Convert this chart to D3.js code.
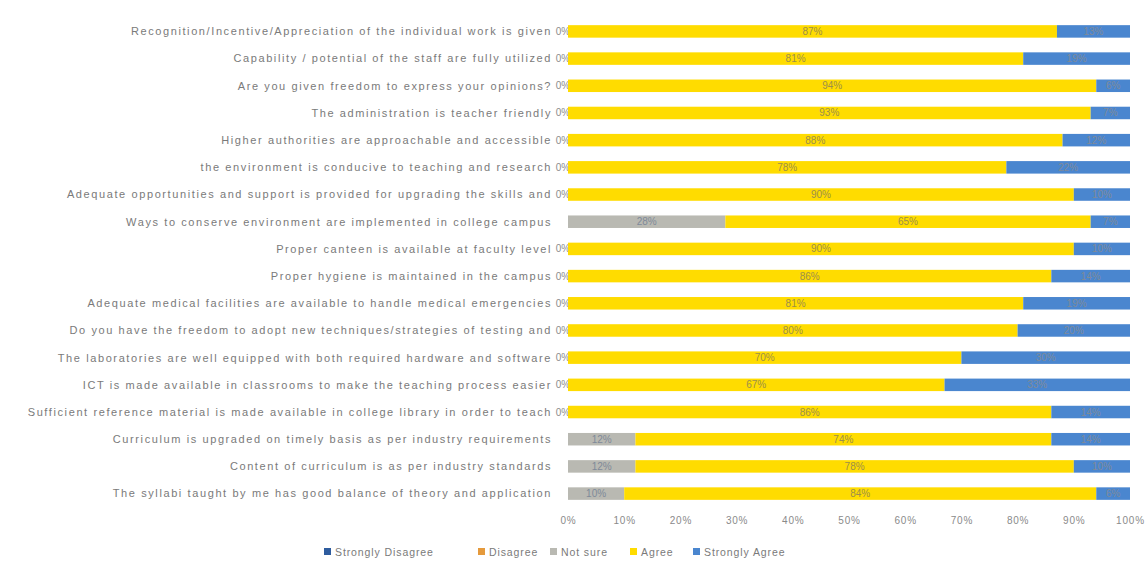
<!DOCTYPE html>
<html>
<head>
<meta charset="utf-8">
<script src="https://cdn.jsdelivr.net/npm/d3@7"></script>
<style>
  html, body { margin: 0; padding: 0; background: #fff; }
  svg { display: block; font-family: "Liberation Sans", Arial, sans-serif; }
</style>
</head>
<body>
<div id="chart"></div>
<script>
// survey statements, top to bottom
const categories = [
  "Recognition/Incentive/Appreciation of the individual work is given",
  "Capability / potential of the staff are fully utilized",
  "Are you given freedom to express your opinions?",
  "The administration is teacher friendly",
  "Higher authorities are approachable and accessible",
  "the environment is conducive to teaching and research",
  "Adequate opportunities and support is provided for upgrading the skills and",
  "Ways to conserve environment are implemented in college campus",
  "Proper canteen is available at faculty level",
  "Proper hygiene is maintained in the campus",
  "Adequate medical facilities are available to handle medical emergencies",
  "Do you have the freedom to adopt new techniques/strategies of testing and",
  "The laboratories are well equipped with both required hardware and software",
  "ICT is made available in classrooms to make the teaching process easier",
  "Sufficient reference material is made available in college library in order to teach",
  "Curriculum is upgraded on timely basis as per industry requirements",
  "Content of curriculum is as per industry standards",
  "The syllabi taught by me has good balance of theory and application"
];

const seriesNames = ["Strongly Disagree", "Disagree", "Not sure", "Agree", "Strongly Agree"];
const seriesColors = ["#2e5c9e", "#e59a3c", "#b9b9b2", "#ffdc00", "#4a86cf"];

const stronglyDisagree = [0, 0, 0, 0, 0, 0, 0, 0, 0, 0, 0, 0, 0, 0, 0, 0, 0, 0];
const disagree         = [0, 0, 0, 0, 0, 0, 0, 0, 0, 0, 0, 0, 0, 0, 0, 0, 0, 0];
const notSure          = [0, 0, 0, 0, 0, 0, 0, 28, 0, 0, 0, 0, 0, 0, 0, 12, 12, 10];
const agree            = [87, 81, 94, 93, 88, 78, 90, 65, 90, 86, 81, 80, 70, 67, 86, 74, 78, 84];
const stronglyAgree    = [13, 19, 6, 7, 12, 22, 10, 7, 10, 14, 19, 20, 30, 33, 14, 14, 10, 6];

const xTicks = [0, 10, 20, 30, 40, 50, 60, 70, 80, 90, 100];

const width = 1147, height = 566;
const x0 = 568, x1 = 1130;

const rows = categories.map((c, i) => ({
  cat: c,
  vals: [stronglyDisagree[i], disagree[i], notSure[i], agree[i], stronglyAgree[i]]
}));

const svg = d3.select("#chart").append("svg")
  .attr("width", width)
  .attr("height", height);

const x = d3.scaleLinear().domain([0, 100]).range([x0, x1]);
const y = d3.scaleBand().domain(categories).range([17, 508]).paddingInner(0.54).paddingOuter(0.3);

// stacked segments
const segs = [];
rows.forEach(r => {
  let acc = 0;
  r.vals.forEach((v, k) => {
    segs.push({ cat: r.cat, k: k, start: acc, v: v });
    acc += v;
  });
});

// zero labels sit partly under the bars (Excel draws them at the bar start)
svg.append("g").selectAll("text")
  .data(rows.filter(r => r.vals[2] === 0))
  .join("text")
  .attr("x", x(0) - 5)
  .attr("y", d => y(d.cat) + y.bandwidth() / 2)
  .attr("dy", "0.35em")
  .attr("text-anchor", "middle")
  .attr("font-size", 10)
  .attr("fill", "#8c8c8c")
  .text("0%");

svg.append("g").selectAll("rect")
  .data(segs.filter(s => s.v > 0))
  .join("rect")
  .attr("x", d => x(d.start))
  .attr("y", d => y(d.cat))
  .attr("width", d => x(d.start + d.v) - x(d.start))
  .attr("height", y.bandwidth())
  .attr("fill", d => seriesColors[d.k]);

svg.append("g").selectAll("text")
  .data(segs.filter(s => s.v > 0))
  .join("text")
  .attr("x", d => x(d.start + d.v / 2))
  .attr("y", d => y(d.cat) + y.bandwidth() / 2)
  .attr("dy", "0.35em")
  .attr("text-anchor", "middle")
  .attr("font-size", 10)
  .attr("fill", d => d.k === 3 ? "#9c8f4a" : "#7f8a99")
  .text(d => d.v + "%");

// category labels
svg.append("g").selectAll("text")
  .data(categories)
  .join("text")
  .attr("x", x0 - 16)
  .attr("y", d => y(d) + y.bandwidth() / 2)
  .attr("dy", "0.35em")
  .attr("text-anchor", "end")
  .attr("font-size", 11)
  .attr("letter-spacing", "1.6px")
  .attr("fill", "#7a7a7a")
  .text(d => d);

// x axis, labels only
const xAxis = svg.append("g")
  .attr("transform", "translate(0,514)")
  .call(d3.axisBottom(x).tickValues(xTicks).tickFormat(d => d + "%").tickSize(0));
xAxis.select(".domain").remove();
xAxis.selectAll("text")
  .attr("font-size", 10)
  .attr("letter-spacing", "0.8px")
  .attr("font-family", "Liberation Sans, Arial, sans-serif")
  .attr("fill", "#8a8a8a");

// legend
const legendX = [324, 478, 550, 630, 693];
const legend = svg.append("g").selectAll("g")
  .data(seriesNames)
  .join("g")
  .attr("transform", (d, i) => "translate(" + legendX[i] + ",552)");
legend.append("rect")
  .attr("x", 0).attr("y", -4)
  .attr("width", 7).attr("height", 7)
  .attr("fill", (d, i) => seriesColors[i]);
legend.append("text")
  .attr("x", 11)
  .attr("dy", "0.35em")
  .attr("font-size", 10.5)
  .attr("letter-spacing", "0.9px")
  .attr("fill", "#7a7a7a")
  .text(d => d);
</script>
</body>
</html>
